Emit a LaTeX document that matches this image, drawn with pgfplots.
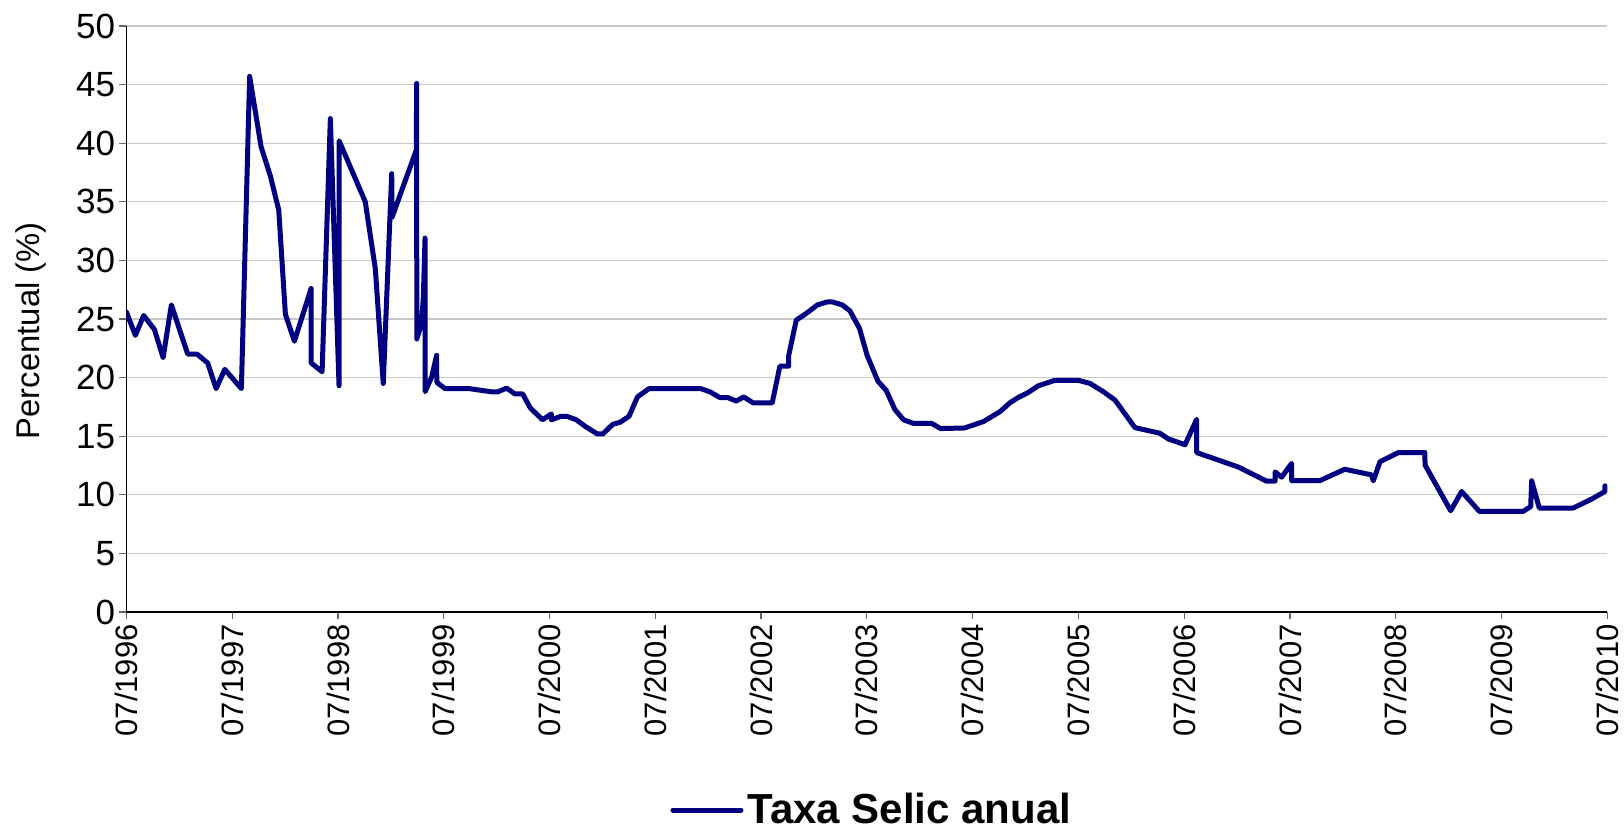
\documentclass[border=0pt]{standalone}
\usepackage{pgfplots}
\pgfplotsset{compat=1.18}
\usepackage{fontspec}
\setmainfont{Liberation Sans}
\definecolor{navyline}{RGB}{0,0,128}
\definecolor{gridgray}{RGB}{200,200,200}
\begin{document}
\begin{tikzpicture}
\begin{axis}[
  at={(63.2pt,110.5pt)}, anchor=south west,
  width=740.5pt, height=293pt, scale only axis,
  xmin=1996.5, xmax=2010.5, ymin=0, ymax=50,
  axis x line*=bottom, axis y line*=left,
  axis line style={black, line width=0.6pt, -},
  xtick={1996.5,1997.5,...,2010.5},
  xticklabels={07/1996,07/1997,07/1998,07/1999,07/2000,07/2001,07/2002,07/2003,07/2004,07/2005,07/2006,07/2007,07/2008,07/2009,07/2010},
  ytick={0,5,...,50},
  tick align=outside, major tick length=3.5pt,
  tick style={black!60, line width=0.6pt},
  ymajorgrids, major grid style={gridgray, line width=0.6pt},
  /pgf/number format/assume math mode=true,
  x tick label style={rotate=90, anchor=east, font=\fontsize{15.5}{15.5}\selectfont, inner sep=2.5pt},
  y tick label style={font=\fontsize{17.5}{17.5}\selectfont, inner sep=2pt},
  ylabel={Percentual (\%)},
  ylabel style={at={(axis description cs:-0.0644,0.48)}, anchor=center, font=\fontsize{16.4}{16.4}\selectfont},
  legend style={at={(axis description cs:0.504,-0.338)}, anchor=center, draw=none, fill=none,
    font=\bfseries\fontsize{21}{21}\selectfont, inner sep=0pt},
  legend image code/.code={\draw[#1] (0pt,0pt) -- (34pt,0pt);},
]
\addplot[navyline, line width=2.5pt, line join=round, line cap=round] coordinates {
(1996.500,25.6) (1996.585,23.6) (1996.664,25.3) (1996.765,24.1) (1996.847,21.7)
(1996.925,26.2) (1997.080,22.0) (1997.168,22.0) (1997.268,21.25) (1997.348,19.06)
(1997.430,20.7) (1997.587,19.06) (1997.665,45.7) (1997.773,39.7) (1997.861,37.2)
(1997.940,34.3) (1998.003,25.4) (1998.088,23.1) (1998.246,27.6) (1998.247,21.25)
(1998.350,20.5) (1998.428,42.1) (1998.510,19.3) (1998.511,40.2) (1998.758,35.0)
(1998.853,29.3) (1998.928,19.5) (1999.008,37.4) (1999.012,33.7) (1999.240,39.4)
(1999.244,45.1) (1999.245,23.3) (1999.291,24.6) (1999.307,26.9) (1999.323,31.9)
(1999.324,18.8) (1999.386,20.05) (1999.433,21.9) (1999.434,19.6) (1999.512,19.06)
(1999.740,19.06) (1999.957,18.78) (2000.011,18.78) (2000.094,19.1) (2000.174,18.6)
(2000.246,18.6) (2000.319,17.4) (2000.434,16.4) (2000.517,16.9) (2000.518,16.4)
(2000.608,16.7) (2000.662,16.7) (2000.753,16.4) (2000.843,15.8) (2000.951,15.2)
(2001.006,15.2) (2001.096,16.0) (2001.169,16.2) (2001.252,16.7) (2001.331,18.35)
(2001.440,19.06) (2001.929,19.06) (2002.018,18.78) (2002.109,18.3) (2002.182,18.3)
(2002.265,18.0) (2002.337,18.35) (2002.424,17.84) (2002.605,17.84) (2002.677,20.97)
(2002.760,20.97) (2002.761,21.9) (2002.832,24.9) (2002.923,25.45) (2003.032,26.2)
(2003.122,26.45) (2003.176,26.45) (2003.267,26.2) (2003.339,25.7) (2003.430,24.2)
(2003.502,21.9) (2003.604,19.7) (2003.683,18.9) (2003.763,17.3) (2003.846,16.4)
(2003.937,16.1) (2004.110,16.1) (2004.196,15.65) (2004.424,15.7) (2004.600,16.24)
(2004.758,17.09) (2004.852,17.85) (2004.930,18.3) (2005.025,18.73) (2005.120,19.3)
(2005.278,19.77) (2005.498,19.77) (2005.609,19.5) (2005.735,18.8) (2005.845,18.08)
(2005.924,17.1) (2006.034,15.73) (2006.270,15.25) (2006.349,14.77) (2006.507,14.27)
(2006.617,16.44) (2006.618,13.6) (2007.011,12.37) (2007.279,11.16) (2007.358,11.16)
(2007.359,11.95) (2007.420,11.5) (2007.515,12.68) (2007.516,11.2) (2007.780,11.2)
(2008.018,12.18) (2008.270,11.7) (2008.287,11.19) (2008.350,12.82) (2008.523,13.6)
(2008.775,13.6) (2008.776,12.54) (2009.018,8.64) (2009.122,10.28) (2009.289,8.59)
(2009.705,8.59) (2009.775,9.0) (2009.784,11.2) (2009.856,8.87) (2010.177,8.87)
(2010.350,9.63) (2010.476,10.28) (2010.477,10.76)
};
\addlegendentry{Taxa Selic anual}
\end{axis}
\pgfresetboundingbox
\path[use as bounding box] (0,0) rectangle (812pt,416.5pt);
\end{tikzpicture}
\end{document}
